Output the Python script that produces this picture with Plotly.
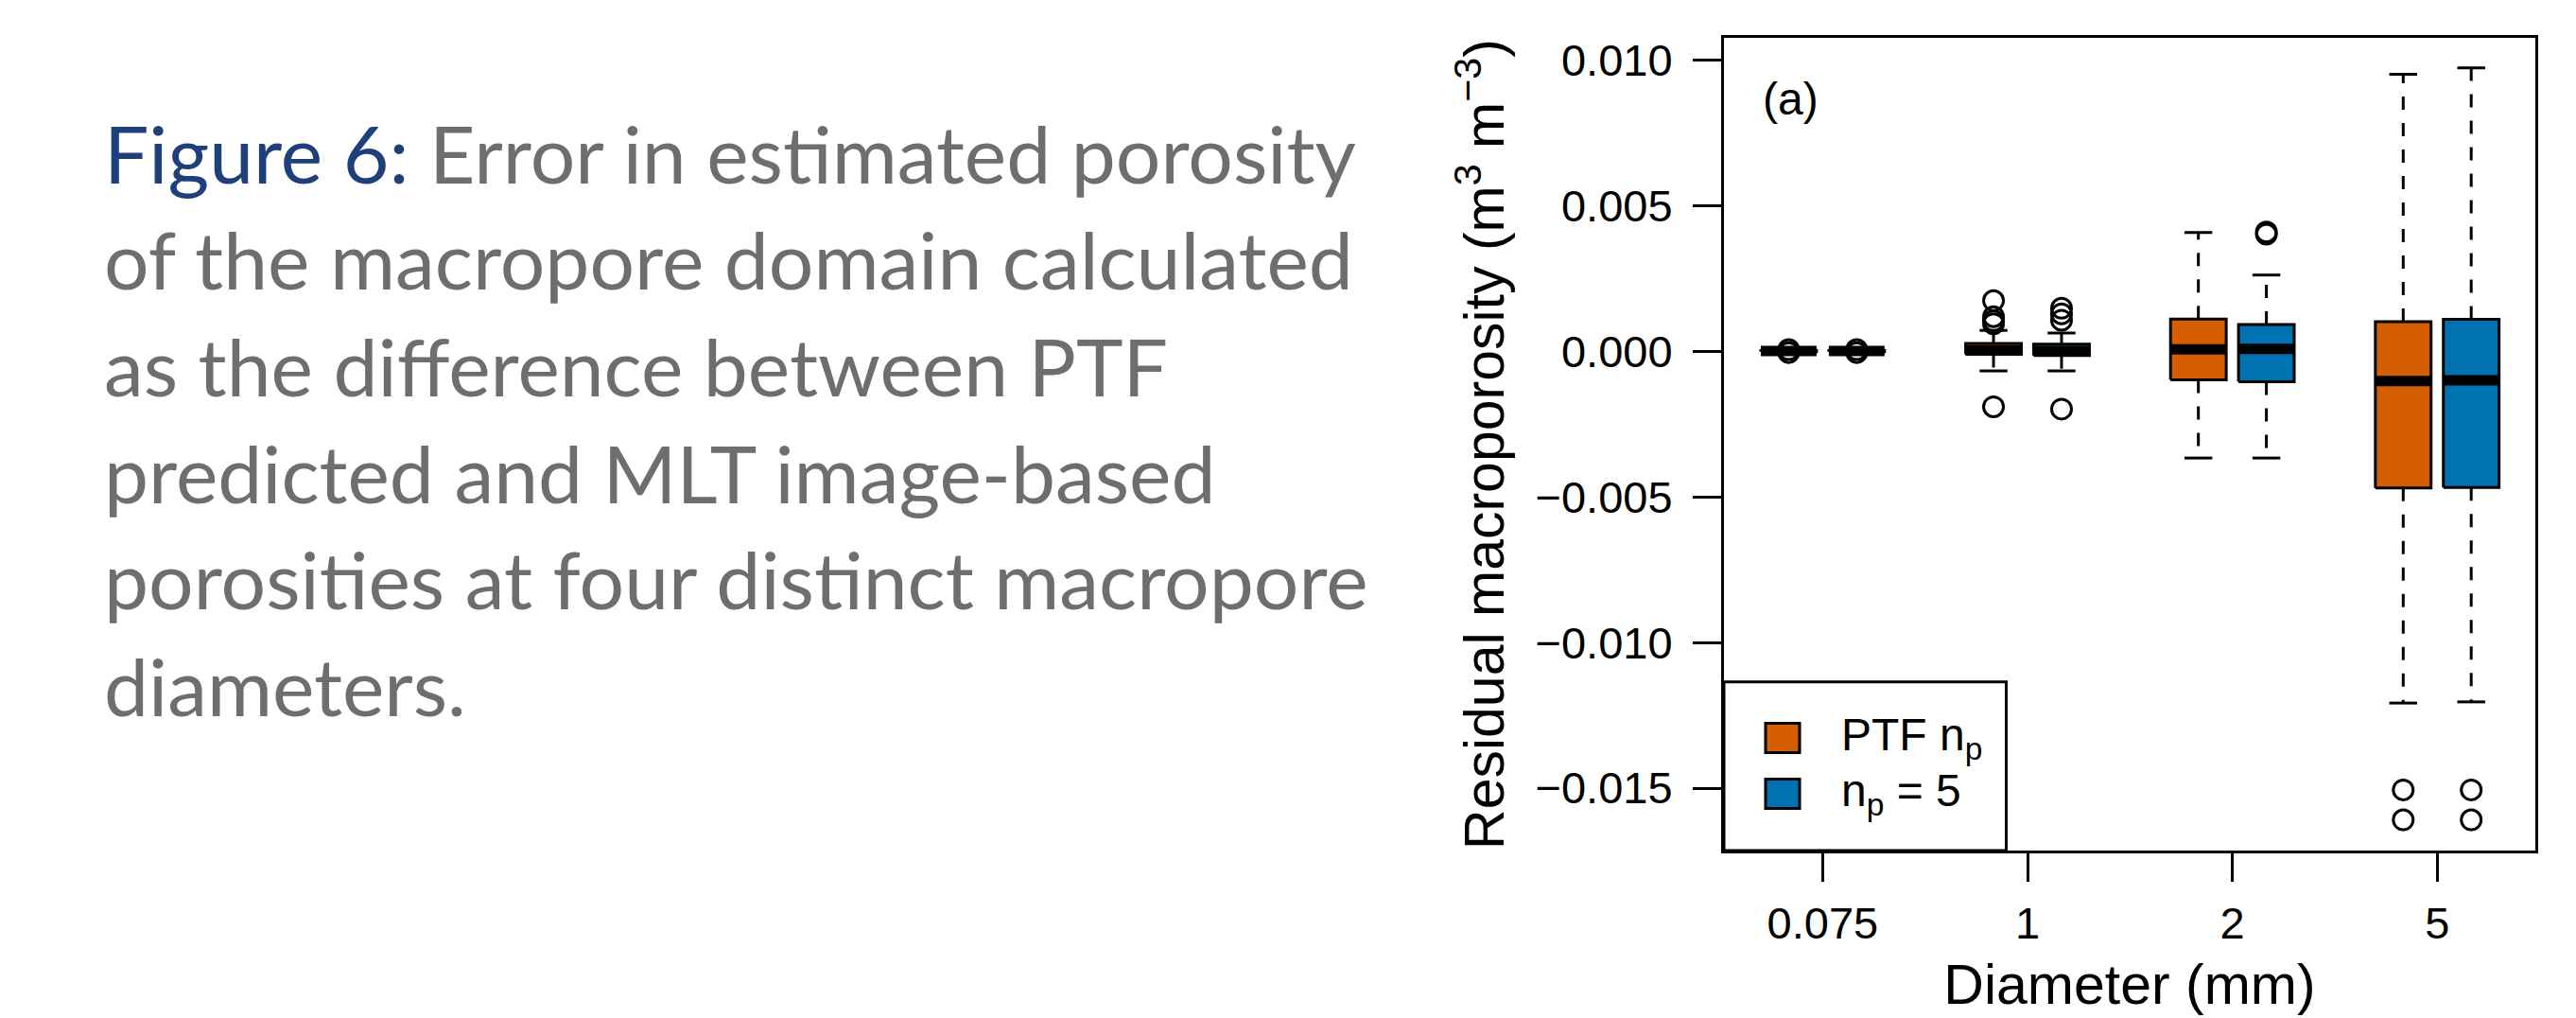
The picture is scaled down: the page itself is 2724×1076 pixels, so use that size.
import plotly.graph_objects as go

# ---------------- data ----------------
diam_labels = ["0.075", "1", "2", "5"]

ptf_q1 = [-0.00002, -0.00011, -0.00099, -0.00470]
ptf_med = [0.00000, 0.00003, 0.00006, -0.00103]
ptf_q3 = [0.00002, 0.00026, 0.00110, 0.00101]
ptf_lo = [-0.00004, -0.00068, -0.00367, -0.01208]
ptf_hi = [0.00004, 0.00071, 0.00407, 0.00950]
ptf_out = [[0.00005, -0.00005], [0.00173, 0.00118, 0.00104, 0.00094, -0.00191], [], [-0.01506, -0.01609]]

np5_q1 = [-0.00002, -0.00015, -0.00105, -0.00468]
np5_med = [0.00000, 0.00000, 0.00008, -0.00100]
np5_q3 = [0.00002, 0.00024, 0.00091, 0.00109]
np5_lo = [-0.00004, -0.00068, -0.00367, -0.01204]
np5_hi = [0.00004, 0.00062, 0.00261, 0.00972]
np5_out = [[0.00005, -0.00005], [0.00147, 0.00128, 0.00106, -0.00199], [0.00401, 0.00409], [-0.01506, -0.01609]]

series_names = ["PTF n<sub>p</sub>", "n<sub>p</sub> = 5"]
series_colors = ["#D55E00", "#0072B2"]

caption_lines = [
    '<span style="color:#1F3F7B">Figure 6:</span> Error in estimated porosity',
    "of the macropore domain calculated",
    "as the difference between PTF",
    "predicted and MLT image-based",
    "porosities at four distinct macropore",
    "diameters.",
]

# ---------------- layout constants ----------------
W, H = 2724, 1076
PX_L, PX_R, PX_T, PX_B = 1823, 2681, 40, 899
OFFSET = 0.166      # box offset from group centre (x units)
BOXW = 0.272        # box width (x units)
CAPW = BOXW / 2

def pxx(px):
    return (px - PX_L) / (PX_R - PX_L)

def pxy(py):
    return (PX_B - py) / (PX_B - PX_T)

fig = go.Figure()

series = [
    (ptf_q1, ptf_med, ptf_q3, ptf_lo, ptf_hi, ptf_out),
    (np5_q1, np5_med, np5_q3, np5_lo, np5_hi, np5_out),
]

for s, (q1, med, q3, lo, hi, out) in enumerate(series):
    sign = -1 if s == 0 else 1
    col = series_colors[s]
    wx, wy, cx, cy, bx, by, mx, my, ox, oy = [], [], [], [], [], [], [], [], [], []
    for g in range(len(diam_labels)):
        c = g + 1 + sign * OFFSET
        # whiskers (from box edge outwards)
        wx += [c, c, None, c, c, None]
        wy += [q3[g], hi[g], None, q1[g], lo[g], None]
        # staples
        cx += [c - CAPW / 2, c + CAPW / 2, None, c - CAPW / 2, c + CAPW / 2, None]
        cy += [hi[g], hi[g], None, lo[g], lo[g], None]
        # box
        bx += [c - BOXW / 2, c + BOXW / 2, c + BOXW / 2, c - BOXW / 2, c - BOXW / 2, None]
        by += [q1[g], q1[g], q3[g], q3[g], q1[g], None]
        # median
        mx += [c - BOXW / 2, c + BOXW / 2, None]
        my += [med[g], med[g], None]
        # outliers
        ox += [c] * len(out[g])
        oy += out[g]
    fig.add_trace(go.Scatter(x=wx, y=wy, mode="lines", showlegend=False, hoverinfo="skip",
                             line=dict(color="black", width=3, dash="14px,14px")))
    fig.add_trace(go.Scatter(x=cx, y=cy, mode="lines", showlegend=False, hoverinfo="skip",
                             line=dict(color="black", width=3)))
    fig.add_trace(go.Scatter(x=bx, y=by, mode="lines", fill="toself", fillcolor=col,
                             showlegend=False, name=series_names[s],
                             line=dict(color="black", width=3)))
    fig.add_trace(go.Scatter(x=mx, y=my, mode="lines", showlegend=False, hoverinfo="skip",
                             line=dict(color="black", width=11)))
    fig.add_trace(go.Scatter(x=ox, y=oy, mode="markers", showlegend=False,
                             marker=dict(symbol="circle-open", size=21, color="black",
                                         line=dict(width=3, color="black"))))

# ---------------- manual legend (R style) ----------------
shapes = [
    dict(type="rect", xref="paper", yref="paper", x0=0, x1=pxx(2121.5), y0=0, y1=pxy(720.7),
         line=dict(color="black", width=3), fillcolor="white", layer="above"),
]
legend_rows = [780, 839]
annotations = []
for i, row in enumerate(legend_rows):
    shapes.append(dict(type="rect", xref="paper", yref="paper",
                       x0=pxx(1867), x1=pxx(1903), y0=pxy(row + 15.5), y1=pxy(row - 15.5),
                       line=dict(color="black", width=3), fillcolor=series_colors[i], layer="above"))
    annotations.append(dict(xref="paper", yref="paper", x=pxx(1945), y=pxy(row),
                            xanchor="left", yanchor="middle", showarrow=False,
                            text=series_names[i],
                            font=dict(family="Liberation Sans", size=48, color="black")))

# panel label
annotations.append(dict(xref="paper", yref="paper", x=pxx(1893), y=pxy(104),
                        xanchor="center", yanchor="middle", showarrow=False, text="(a)",
                        font=dict(family="Liberation Sans", size=48, color="black")))

# caption
baselines = [194, 306.7, 419.3, 532, 644.7, 757.3]
CAP_SIZE = 84
for line, base in zip(caption_lines, baselines):
    annotations.append(dict(xref="paper", yref="paper", x=pxx(108), y=pxy(base - 0.39 * CAP_SIZE),
                            xanchor="left", yanchor="middle", showarrow=False, text=line,
                            font=dict(family="Lato", size=CAP_SIZE, color="#6E6E6E")))

fig.update_layout(
    width=W, height=H,
    margin=dict(l=PX_L, r=W - PX_R, t=PX_T, b=H - PX_B, pad=0),
    paper_bgcolor="white", plot_bgcolor="white",
    showlegend=False,
    shapes=shapes, annotations=annotations,
    font=dict(family="Liberation Sans", color="black"),
)
fig.update_xaxes(
    range=[0.518, 4.479], tickvals=[1, 2, 3, 4], ticktext=diam_labels,
    showgrid=False, zeroline=False, showline=True, mirror=True, linecolor="black", linewidth=3,
    ticks="outside", ticklen=30, tickwidth=3, tickcolor="black",
    tickfont=dict(family="Liberation Sans", size=47), ticklabelstandoff=4,
    title=dict(text="Diameter (mm)", font=dict(family="Liberation Sans", size=59), standoff=19),
)
fig.update_yaxes(
    range=[-0.017142, 0.010751], tickvals=[-0.015, -0.010, -0.005, 0.0, 0.005, 0.010],
    tickformat=".3f",
    showgrid=False, zeroline=False, showline=True, mirror=True, linecolor="black", linewidth=3,
    ticks="outside", ticklen=30, tickwidth=3, tickcolor="black",
    tickfont=dict(family="Liberation Sans", size=47), ticklabelstandoff=12,
    title=dict(text="Residual macroporosity (m<sup>3</sup> m<sup>\u22123</sup>)",
               font=dict(family="Liberation Sans", size=59), standoff=14),
)

fig.write_html("out.html")
